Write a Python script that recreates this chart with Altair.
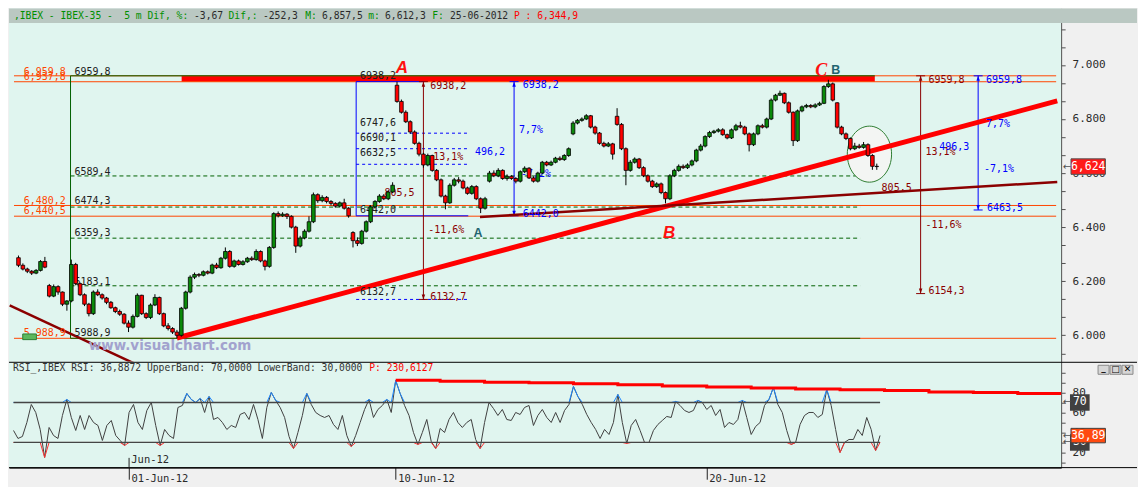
import altair as alt
import pandas as pd

# ---------------- data ----------------
bar_start = -2.6      # trading days relative to the 01-Jun-12 session
bar_step = 0.1        # ten candles per session
opens = [6287,6259,6245,6237,6230,6240,6273,6184,6145,6180,
         6160,6115,6127,6262,6191,6150,6115,6080,6160,6150,
         6138,6122,6102,6088,6078,6045,6030,6070,6148,6080,
         6066,6112,6140,6080,6035,6025,6012,6000,6100,6160,
         6215,6225,6222,6235,6230,6260,6250,6285,6310,6255,
         6275,6262,6272,6285,6280,6310,6275,6255,6325,6450,
         6442,6448,6440,6400,6330,6360,6385,6420,6520,6498,
         6510,6495,6488,6478,6490,6470,6380,6350,6340,6385,
         6420,6475,6495,6515,6505,6530,6925,6865,6825,6790,
         6752,6710,6670,6630,6665,6610,6575,6515,6490,6555,
         6575,6570,6545,6525,6550,6505,6470,6570,6600,6590,
         6610,6580,6588,6580,6570,6605,6618,6582,6570,6600,
         6640,6630,6640,6655,6650,6665,6745,6785,6795,6800,
         6812,6770,6748,6710,6700,6708,6810,6780,6690,6610,
         6640,6652,6620,6590,6570,6550,6560,6528,6505,6590,
         6610,6625,6620,6630,6645,6685,6700,6735,6750,6755,
         6760,6742,6730,6760,6775,6770,6745,6705,6745,6775,
         6770,6800,6870,6888,6895,6860,6825,6720,6830,6845,
         6850,6845,6852,6858,6920,6930,6860,6770,6745,6728,
         6690,6700,6695,6705,6665,6625]
highs = [6295,6266,6250,6241,6245,6278,6290,6190,6188,6185,
         6162,6130,6280,6268,6195,6155,6120,6166,6170,6155,
         6142,6127,6106,6095,6082,6055,6077,6155,6150,6085,
         6118,6152,6143,6084,6045,6030,6020,6105,6165,6222,
         6232,6230,6240,6240,6265,6268,6290,6325,6315,6280,
         6280,6278,6290,6292,6318,6314,6280,6330,6455,6458,
         6455,6452,6444,6405,6368,6392,6440,6528,6525,6518,
         6515,6500,6492,6495,6505,6474,6385,6362,6390,6425,
         6480,6500,6522,6522,6536,6566,6938,6872,6832,6795,
         6758,6716,6675,6672,6668,6615,6580,6520,6562,6582,
         6585,6576,6550,6556,6555,6510,6512,6608,6610,6618,
         6614,6595,6592,6585,6610,6625,6622,6588,6605,6645,
         6645,6646,6660,6662,6670,6695,6792,6800,6806,6818,
         6815,6775,6752,6716,6715,6712,6840,6785,6695,6648,
         6658,6656,6625,6595,6575,6566,6565,6532,6596,6616,
         6632,6632,6636,6650,6690,6708,6740,6756,6760,6766,
         6766,6746,6765,6782,6790,6775,6750,6750,6780,6782,
         6805,6876,6893,6905,6898,6865,6828,6835,6850,6856,
         6855,6858,6864,6925,6945,6935,6862,6775,6750,6732,
         6712,6708,6715,6710,6670,6635]
lows = [6252,6240,6230,6223,6226,6236,6248,6140,6141,6150,
        6108,6091,6122,6185,6145,6108,6070,6075,6145,6132,
        6115,6098,6082,6072,6040,6012,6025,6066,6075,6060,
        6060,6108,6075,6030,6018,6005,5989,5995,6095,6155,
        6208,6215,6218,6225,6226,6245,6246,6280,6250,6250,
        6258,6258,6268,6275,6276,6270,6240,6250,6320,6436,
        6438,6430,6395,6305,6325,6355,6380,6415,6490,6492,
        6488,6480,6472,6474,6465,6435,6325,6330,6335,6380,
        6415,6470,6490,6500,6500,6526,6860,6820,6785,6745,
        6705,6662,6620,6625,6605,6570,6510,6466,6486,6550,
        6562,6540,6520,6520,6500,6452,6465,6565,6585,6585,
        6575,6572,6575,6562,6565,6600,6578,6565,6565,6596,
        6625,6626,6636,6645,6645,6660,6740,6780,6790,6796,
        6765,6742,6705,6695,6696,6650,6775,6685,6555,6605,
        6635,6615,6585,6565,6545,6545,6522,6488,6500,6585,
        6605,6615,6615,6625,6640,6680,6695,6730,6745,6750,
        6738,6725,6726,6755,6765,6740,6680,6700,6740,6765,
        6765,6796,6865,6885,6855,6820,6700,6715,6825,6840,
        6840,6840,6848,6855,6915,6865,6765,6740,6722,6684,
        6685,6690,6690,6660,6612,6612]
closes = [6259,6245,6237,6230,6240,6273,6252,6145,6180,6160,
          6115,6127,6262,6191,6150,6115,6080,6160,6150,6138,
          6122,6102,6088,6078,6045,6030,6070,6148,6080,6066,
          6112,6140,6080,6035,6025,6012,6000,6100,6160,6215,
          6225,6222,6235,6230,6260,6250,6285,6310,6255,6275,
          6262,6272,6285,6280,6310,6275,6255,6325,6450,6442,
          6448,6440,6400,6330,6360,6385,6420,6520,6498,6510,
          6495,6488,6478,6490,6470,6442,6350,6340,6385,6420,
          6475,6495,6515,6505,6530,6555,6865,6825,6790,6752,
          6710,6670,6630,6665,6610,6575,6515,6490,6555,6575,
          6570,6545,6525,6550,6505,6470,6505,6600,6590,6610,
          6580,6588,6580,6570,6605,6618,6582,6570,6600,6640,
          6630,6640,6655,6650,6665,6690,6785,6795,6800,6812,
          6770,6748,6710,6700,6708,6670,6780,6690,6610,6640,
          6652,6620,6590,6570,6550,6560,6528,6505,6590,6610,
          6625,6620,6630,6645,6685,6700,6735,6750,6755,6760,
          6742,6730,6760,6775,6770,6745,6705,6745,6775,6770,
          6800,6870,6888,6895,6860,6825,6720,6830,6845,6850,
          6845,6852,6858,6920,6930,6870,6770,6745,6728,6690,
          6700,6695,6705,6665,6625,6624]
rsi_values = [42,34,36,50,68,60,43,15,45,37,
              34,57,73,55,42,57,43,57,50,47,
              32,47,52,37,32,27,60,68,50,43,
              62,70,47,27,43,37,34,65,67,79,
              73,70,74,60,76,53,55,50,43,47,
              45,58,60,53,68,53,34,65,80,72,
              65,55,36,24,40,57,79,68,60,57,
              55,57,48,43,57,37,26,37,50,63,
              73,55,63,67,73,60,92,79,67,57,
              40,28,40,53,31,24,44,40,53,60,
              50,45,50,53,33,24,50,70,64,57,
              63,53,52,60,58,65,67,47,57,63,
              55,50,60,50,62,68,86,76,68,58,
              50,43,34,43,38,50,78,50,29,47,
              53,42,30,30,42,48,52,56,55,71,
              67,62,60,62,72,70,63,67,57,63,
              45,50,48,53,72,55,38,46,50,67,
              73,85,68,60,42,28,30,48,57,60,
              60,55,58,83,67,43,20,30,33,33,
              43,37,55,43,22,37]
rsi_trend_days = [6, 7, 8, 9, 10, 11, 12, 13, 14, 15, 16, 17, 18, 19, 20, 21]
rsi_trend_values = [92.2, 91.3, 90.3, 89.7, 88.7, 87.7, 86.4, 85.4, 84.5, 83.5,
                    82.8, 81.9, 80.6, 79.9, 78.9, 78.9]
rsi_upper, rsi_lower = 70, 30

orange_levels = [6959.8, 6937.8, 6480.2, 6440.5, 5988.9]
green_hi, green_lo = 6959.8, 5988.9
green_levels = [6589.4, 6474.3, 6359.3, 6183.1]
blue_hi, blue_lo = 6938.2, 6442.0
blue_levels = [6747.6, 6690.1, 6632.5, 6132.7]

price_ticks = [5933.3, 6000, 6066.7, 6133.3, 6200, 6266.7, 6333.3, 6400, 6466.7,
               6533.3, 6600, 6666.7, 6733.3, 6800, 6866.7, 6933.3, 7000, 7066.7, 7133.3]
rsi_ticks = [10, 20, 30, 40, 50, 60, 70, 80, 90, 100]
date_ticks = [0, 6, 13]
date_labels = ["01-Jun-12", "10-Jun-12", "20-Jun-12"]

# ---------------- layout ----------------
MONO = "DejaVu Sans Mono"
SANS = "Liberation Sans"
SERIF = "Liberation Serif"
W, AX = 1054, 76
H1, H2, HX = 354, 106, 19
T_DOM = [-2.702, 20.975]
P_DOM = [5902, 7209]
R_DOM = [4.85, 110.7]
RED, MAROON, BLUE, ORANGE, DGREEN = "#ff0000", "#8b0000", "#0000ff", "#ff4500", "#006000"

xs = alt.Scale(domain=T_DOM, nice=False, zero=False)
ps = alt.Scale(domain=P_DOM, nice=False, zero=False)
rs = alt.Scale(domain=R_DOM, nice=False, zero=False)

price_axis = alt.Axis(orient="right", values=price_ticks, title=None, grid=False,
                      labelExpr="datum.value % 200 == 0 ? replace(format(datum.value, ',.0f'), ',', '.') : ''",
                      tickSize=4, tickColor="#505050", domainColor="#505050", labelColor="#2a2a2a",
                      labelFont=MONO, labelFontSize=11, labelPadding=7, labelOverlap=False,
                      minExtent=AX, maxExtent=AX)
rsi_axis = alt.Axis(orient="right", values=rsi_ticks, title=None, grid=False,
                    labelExpr="datum.value % 20 == 0 && datum.value < 100 ? '' + datum.value : ''",
                    tickSize=4, tickColor="#505050", domainColor="#505050", labelColor="#2a2a2a",
                    labelFont=MONO, labelFontSize=11, labelPadding=7, labelOverlap=False,
                    minExtent=AX, maxExtent=AX)
date_expr = " : ".join(f"datum.value == {v} ? '{s}'" for v, s in zip(date_ticks, date_labels)) + " : ''"
date_axis = alt.Axis(orient="bottom", values=date_ticks, labelExpr=date_expr, title=None, grid=False,
                     tickSize=11.6, tickColor="#202020", domainColor="#000000", labelColor="#2a2a2a",
                     labelFont=MONO, labelFontSize=10.5, labelAlign="left", labelBaseline="top",
                     labelPadding=-5.8, labelOffset=2, labelFlush=False, labelOverlap=False,
                     minExtent=HX, maxExtent=HX)


def PX(f):
    return alt.X(f + ":Q", scale=xs, axis=None)


def RX(f):
    return alt.X(f + ":Q", scale=xs, axis=date_axis)


def PY(f):
    return alt.Y(f + ":Q", scale=ps, axis=price_axis)


def RY(f):
    return alt.Y(f + ":Q", scale=rs, axis=rsi_axis)


ONE = pd.DataFrame({"d": [0]})


def pix_text(txt, x, y, color, size=9.7, font=MONO, weight="normal", style="normal", align="left"):
    return alt.Chart(ONE).mark_text(align=align, baseline="middle", font=font, fontSize=size,
                                    fontWeight=weight, fontStyle=style, color=color,
                                    text=txt).encode(x=alt.value(x), y=alt.value(y))


def segs(rows, color, width=1, dash=None, clip=False):
    df = pd.DataFrame(rows, columns=["t1", "p1", "t2", "p2"])
    kw = dict(color=color, strokeWidth=width, clip=clip)
    if dash:
        kw["strokeDash"] = dash
    return alt.Chart(df).mark_rule(**kw).encode(x=PX("t1"), x2=alt.X2("t2:Q"),
                                                y=PY("p1"), y2=alt.Y2("p2:Q"))


def rect_path(hw):
    return f"M{-hw},-0.5 L{hw},-0.5 L{hw},0.5 L{-hw},0.5 Z"


# ---------------- price panel ----------------
n = len(closes)
days = [round(bar_start + bar_step * i, 3) for i in range(n)]
candles = pd.DataFrame({"t": days, "o": opens, "h": highs, "l": lows, "c": closes})
rsi_df = pd.DataFrame({"t": days, "r": rsi_values})

g_t0, g_t1, g_t2 = -1.4175, 16.523, 16.855     # green retracement box (days)
b_t0, b_t1, b_t2 = 5.072, 6.622, 7.619          # blue retracement box (days)

layers = []
# resistance band
layers.append(segs([(1.107, 6948.8, 16.855, 6948.8)], RED, 6))
# orange full width levels
layers.append(segs([(T_DOM[0], v, T_DOM[1], v) for v in orange_levels], ORANGE, 1))
# green retracement
layers.append(segs([(g_t0, green_hi, g_t2, green_hi), (g_t0, green_lo, g_t1, green_lo),
                    (g_t0, green_lo, g_t0, green_hi)], DGREEN, 1))
layers.append(segs([(g_t0, v, g_t1, v) for v in green_levels], DGREEN, 1, [4, 3]))
# blue retracement
layers.append(segs([(b_t0, blue_lo, b_t0, blue_hi), (b_t0, blue_hi, b_t1, blue_hi),
                    (b_t0, blue_lo, b_t2, blue_lo)], BLUE, 1))
layers.append(segs([(b_t0, v, b_t2, v) for v in blue_levels], BLUE, 1, [3, 3]))

# measuring arrows
meas = pd.DataFrame({
    "t": [6.6, 8.66, 17.896, 19.203],
    "top": [6938.2, 6938.2, 6959.8, 6959.8],
    "bot": [6132.7, 6442.0, 6154.3, 6463.5],
    "c": [MAROON, BLUE, MAROON, BLUE],
})
layers.append(alt.Chart(meas).mark_rule(strokeWidth=1).encode(
    x=PX("t"), y=PY("top"), y2=alt.Y2("bot:Q"), color=alt.Color("c:N", scale=None)))
for fld, head in (("top", "M0,0 L-0.7,2 L0.7,2 Z"), ("bot", "M0,0 L-0.7,-2 L0.7,-2 Z")):
    layers.append(alt.Chart(meas).mark_point(shape=head, size=25, filled=True, opacity=1).encode(
        x=PX("t"), y=PY(fld), color=alt.Color("c:N", scale=None)))
    layers.append(alt.Chart(meas).mark_point(shape="M-1,0 L1,0", size=81, filled=False,
                                             strokeWidth=1, opacity=1).encode(
        x=PX("t"), y=PY(fld), color=alt.Color("c:N", scale=None)))

# ellipse around the break
ell = pd.DataFrame({"t": [16.733], "p": [6670]})
layers.append(alt.Chart(ell).mark_point(
    shape="M-0.79,0 A0.79,1 0 1,0 0.79,0 A0.79,1 0 1,0 -0.79,0 Z", size=3152,
    filled=True, fill="#f3f5f3", stroke="#2f7d32", strokeWidth=1, opacity=1).encode(
    x=PX("t"), y=PY("p")))

# trend lines
layers.append(segs([(1.0, 5990, 21.0, 6867)], RED, 5, clip=True))
layers.append(segs([(7.885, 6437.5, 21.0, 6567.2)], MAROON, 2.5, clip=True))
layers.append(segs([(-2.8, 6111, 0.2, 5883)], MAROON, 2.5, clip=True))

# annotation labels (day, price)
labels = [
    ("6959,8", -1.329, 6973, "#202020"), ("6589,4", -1.329, 6605, "#202020"),
    ("6474,3", -1.329, 6495, "#202020"), ("6359,3", -1.329, 6380, "#202020"),
    ("6183,1", -1.329, 6198, "#202020"), ("5988,9", -1.329, 6009, "#202020"),
    ("6938,2", 5.161, 6959, "#202020"), ("6747,6", 5.161, 6787, "#202020"),
    ("6690,1", 5.161, 6730, "#202020"), ("6632,5", 5.161, 6673, "#202020"),
    ("6442,0", 5.161, 6462, "#202020"), ("6132,7", 5.161, 6159, "#202020"),
    ("6,959,8", -2.48, 6973, ORANGE), ("6,937,8", -2.48, 6957, ORANGE),
    ("6,480,2", -2.48, 6498, ORANGE), ("6,440,5", -2.48, 6459, ORANGE),
    ("5,988,9", -2.48, 6009, ORANGE),
    ("6938,2", 6.755, 6923, MAROON), ("6132,7", 6.755, 6141, MAROON),
    ("-11,6%", 6.711, 6388, MAROON), ("13,1%", 6.822, 6659, MAROON),
    ("805,5", 5.714, 6527, MAROON),
    ("6959,8", 18.073, 6944, MAROON), ("6154,3", 18.073, 6162, MAROON),
    ("13,1%", 18.007, 6677, MAROON), ("-11,6%", 18.007, 6409, MAROON),
    ("805,5", 17.01, 6545, MAROON),
    ("6938,2", 8.859, 6927, BLUE), ("7,7%", 8.771, 6759, BLUE),
    ("496,2", 7.774, 6677, BLUE), ("-7,2%", 8.815, 6595, BLUE),
    ("6442,0", 8.859, 6448, BLUE),
    ("6959,8", 19.38, 6944, BLUE), ("7,7%", 19.38, 6780, BLUE),
    ("496,3", 18.317, 6698, BLUE), ("-7,1%", 19.336, 6616, BLUE),
    ("6463,5", 19.402, 6470, BLUE),
]
lab = pd.DataFrame(labels, columns=["txt", "t", "p", "c"])
layers.append(alt.Chart(lab).mark_text(align="left", baseline="middle", font=MONO, fontSize=10).encode(
    x=PX("t"), y=PY("p"), text="txt:N", color=alt.Color("c:N", scale=None)))

# candles
layers.append(alt.Chart(candles).mark_rule(color="#000000", strokeWidth=1).encode(
    x=PX("t"), y=PY("l"), y2=alt.Y2("h:Q")))
layers.append(alt.Chart(candles).mark_bar(size=3.6, stroke="#000000", strokeWidth=0.8,
                                          orient="vertical").encode(
    x=PX("t"), y=PY("o"), y2=alt.Y2("c:Q"),
    color=alt.condition("datum.c >= datum.o", alt.value("#0a8a0a"), alt.value("#ff0000"))))

# wave letters
def letter(rows, color, font, size, style):
    df = pd.DataFrame(rows, columns=["txt", "t", "p"])
    return alt.Chart(df).mark_text(align="center", baseline="middle", font=font, fontSize=size,
                                   fontWeight="bold", fontStyle=style, color=color).encode(
        x=PX("t"), y=PY("p"), text="txt:N")

layers.append(letter([("A", 6.113, 6987), ("B", 12.182, 6380)], "#ff1010", SANS, 17, "italic"))
layers.append(letter([("C", 15.637, 6976)], "#ff1010", SERIF, 18, "italic"))
layers.append(letter([("B", 15.969, 6980), ("A", 7.841, 6380)], "#1f6470", SANS, 12.5, "normal"))

# small legend box + watermark
layers.append(alt.Chart(pd.DataFrame({"t1": [-2.503], "t2": [-2.193], "p1": [5984], "p2": [6005]}))
              .mark_rect(fill="#5cb85c", stroke="#2e7d32", strokeWidth=1).encode(
    x=PX("t1"), x2=alt.X2("t2:Q"), y=PY("p1"), y2=alt.Y2("p2:Q")))
layers.append(alt.Chart(pd.DataFrame({"t": [0.842], "p": [5962]})).mark_text(
    text="www.visualchart.com", font="DejaVu Sans", fontSize=13.5, fontWeight="bold",
    color="#a2a2ce", align="center", baseline="middle").encode(x=PX("t"), y=PY("p")))

# header bar
layers.append(alt.Chart(ONE).mark_rect(fill="#bac8c2").encode(
    x=alt.value(0), x2=alt.value(W + AX), y=alt.value(0), y2=alt.value(14.5)))
GREEN_T, DARK_T = "#008f00", "#2a2a2a"
header = [(",IBEX - IBEX-35 -", 5, GREEN_T), ("5 m Dif, %:", 117, GREEN_T), ("-3,67", 188, DARK_T),
          ("Dif,:", 223, GREEN_T), ("-252,3", 258, DARK_T), ("M:", 301, GREEN_T),
          ("6,857,5", 318, DARK_T), ("m:", 365, GREEN_T), ("6,612,3", 382, DARK_T),
          ("F:", 430, GREEN_T), ("25-06-2012", 448, DARK_T), ("P : 6,344,9", 513, "#ff0000")]
for txt, xr, col in header:
    layers.append(pix_text(txt, xr * 1130 / 1146, 7.3, col))

# last price box on the axis
last = pd.DataFrame({"p": [closes[-1]], "txt": ["6,624"]})
layers.append(alt.Chart(last).mark_point(shape=rect_path(1.11), size=961, filled=True, fill="#ff1a1a",
                                         stroke="#505050", strokeWidth=1, opacity=1).encode(
    x=alt.value(W + 27.1), y=PY("p")))
layers.append(alt.Chart(last).mark_text(font=MONO, fontSize=11.5, color="#ffffff", align="center",
                                        baseline="middle").encode(
    x=alt.value(W + 27.1), y=PY("p"), text="txt:N"))
layers.append(alt.Chart(last).mark_text(text="\u2190", font="DejaVu Sans", fontSize=10, color="#505050",
                                        align="left", baseline="middle").encode(
    x=alt.value(W + 1.5), y=PY("p")))

price = alt.layer(*layers).properties(width=W, height=H1)

# ---------------- RSI panel ----------------
rl = []
rl.append(alt.Chart(rsi_df).mark_line(color="#404040", strokeWidth=1).encode(x=RX("t"), y=RY("r")))
rl.append(alt.Chart(rsi_df).transform_calculate(hi=f"max(datum.r, {rsi_upper})").mark_line(
    color="#1e88ff", strokeWidth=1).encode(x=RX("t"), y=RY("hi")))
rl.append(alt.Chart(rsi_df).transform_calculate(lo=f"min(datum.r, {rsi_lower})").mark_line(
    color="#ff3030", strokeWidth=1).encode(x=RX("t"), y=RY("lo")))
bands = pd.DataFrame({"t1": [days[0]] * 2, "t2": [days[-1]] * 2, "r": [rsi_upper, rsi_lower]})
rl.append(alt.Chart(bands).mark_rule(color="#454545", strokeWidth=1.3).encode(
    x=RX("t1"), x2=alt.X2("t2:Q"), y=RY("r")))
rl.append(alt.Chart(pd.DataFrame({"t": rsi_trend_days, "r": rsi_trend_values})).mark_line(
    color="#ff0000", strokeWidth=3, interpolate="step-after", clip=True).encode(x=RX("t"), y=RY("r")))
# panel borders
rl.append(alt.Chart(ONE).mark_rule(color="#000000", strokeWidth=1).encode(
    x=alt.value(0), x2=alt.value(W + AX), y=alt.value(0.5)))
rl.append(alt.Chart(ONE).mark_rule(color="#000000", strokeWidth=1).encode(
    x=alt.value(0), x2=alt.value(W + AX), y=alt.value(H2)))
# header
rl.append(pix_text("RSI_,IBEX RSI: 36,8872 UpperBand: 70,0000 LowerBand: 30,0000", 4, 6.2, "#333333"))
rl.append(pix_text("P: 230,6127", 366 * 1130 / 1146, 6.2, "#ff0000"))
# month marker
rl.append(alt.Chart(pd.DataFrame({"t": [0], "r1": [14.6], "r2": [R_DOM[0]]})).mark_rule(
    color="#202020", strokeWidth=1).encode(x=RX("t"), y=RY("r1"), y2=alt.Y2("r2:Q")))
rl.append(alt.Chart(pd.DataFrame({"t": [0.05], "r": [12.6]})).mark_text(
    text="Jun-12", font=MONO, fontSize=10.5, color="#2a2a2a", align="left", baseline="middle").encode(
    x=RX("t"), y=RY("r")))
# value boxes on the RSI axis
boxes = pd.DataFrame({"r": [rsi_upper, rsi_lower], "txt": ["70", "30"]})
rl.append(alt.Chart(boxes).mark_point(shape=rect_path(0.61), size=841, filled=True, fill="#404040",
                                      stroke="#404040", opacity=1).encode(x=alt.value(W + 18.7), y=RY("r")))
rl.append(alt.Chart(boxes).mark_text(font=MONO, fontSize=11.5, color="#ffffff", align="center",
                                     baseline="middle").encode(x=alt.value(W + 18.7), y=RY("r"), text="txt:N"))
cur = pd.DataFrame({"r": [36.89], "txt": ["36,89"]})
rl.append(alt.Chart(cur).mark_point(shape=rect_path(1.19), size=841, filled=True, fill="#ff4a10",
                                    stroke="#404040", strokeWidth=1, opacity=1).encode(
    x=alt.value(W + 27.1), y=RY("r")))
rl.append(alt.Chart(cur).mark_text(font=MONO, fontSize=11.5, color="#ffffff", align="center",
                                   baseline="middle").encode(x=alt.value(W + 27.1), y=RY("r"), text="txt:N"))
arrows = pd.DataFrame({"r": [rsi_upper, 36.89, rsi_lower]})
rl.append(alt.Chart(arrows).mark_text(text="\u2190", font="DejaVu Sans", fontSize=10, color="#505050",
                                      align="left", baseline="middle").encode(x=alt.value(W + 1.5), y=RY("r")))
# window buttons
for i, g in enumerate(["_", "\u25a1", "\u2715"]):
    x0 = W + 37 + 12 * i
    rl.append(alt.Chart(ONE).mark_rect(fill="#d6d6d6", stroke="#8a8a8a", strokeWidth=1).encode(
        x=alt.value(x0), x2=alt.value(x0 + 11), y=alt.value(3.5), y2=alt.value(12.5)))
    rl.append(pix_text(g, x0 + 5.5, 7.5 if i else 6, "#000000", size=9, font="DejaVu Sans",
                       weight="bold", align="center"))

rsi_panel = alt.layer(*rl).properties(width=W, height=H2)

chart = alt.vconcat(price, rsi_panel, spacing=0).properties(
    padding=0, background="#f0f0f0").configure_view(stroke=None, fill="#e0f5ef")

chart.save("out.html", embed_options={"renderer": "svg", "actions": False})
